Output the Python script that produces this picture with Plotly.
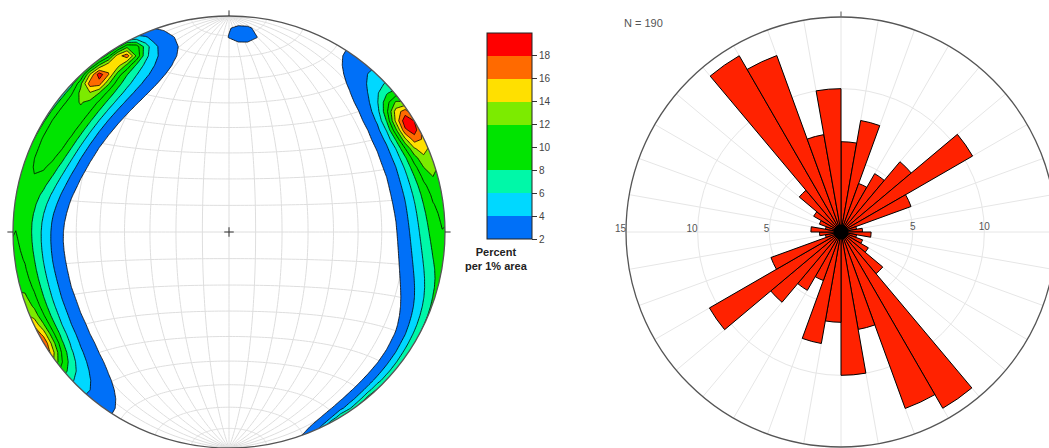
import numpy as np
import plotly.graph_objects as go

FIG_W, FIG_H = 1060, 448   # page shows 1049 px; the rose runs off the right edge as in the original

# ---------------- Rose diagram: strike directions, 10 degree bins, percent of N ----------------
rose_bin_start = [0, 10, 20, 30, 40, 50, 60, 70, 80, 90, 100, 110, 120, 130, 140, 150, 160, 170,
                  180, 190, 200, 210, 220, 230, 240, 250, 260, 270, 280, 290, 300, 310, 320, 330, 340, 350]
rose_percent = [6.3, 7.9, 3.6, 4.7, 6.4, 10.6, 5.2, 1.1, 1.5, 2.1, 1.1, 1.6, 2.2, 3.8, 14.2, 13.1, 6.9, 10.0,
                6.3, 7.9, 3.6, 4.7, 6.4, 10.6, 5.2, 1.1, 1.5, 2.1, 1.1, 1.6, 2.2, 3.8, 14.2, 13.1, 6.9, 10.0]
rose_left_ticks = [5, 10, 15]
rose_right_ticks = [5, 10]
rose_label = "N = 190"

# ---------------- Stereonet: pole concentrations (trend deg, plunge deg, weight %, spread deg) ----
pole_trend = [40, 50, 60, 70, 80, 90, 100,
              290, 300, 310, 320, 330, 340,
              58, 68, 238, 320, 330, 4]
pole_plunge = [0, 0, 0, 0, 0, 0, 0,
               10, 10, 10, 10, 10, 10,
               4.5, 3, 2, 6.5, 5.5, 9]
pole_weight = [0.8, 2.3, 3.1, 3.4, 3.4, 3.4, 3.3,
               4.0, 4.6, 5.0, 4.6, 3.2, 0.7,
               9.5, 3.0, 2.5, 9.5, 10.5, 2.8]
pole_spread = [13, 13, 13, 13, 13, 13, 13,
               10, 10, 10, 10, 10, 10,
               5, 6, 5, 3.6, 3.4, 5.0]

contour_levels = [2, 4, 6, 8, 10, 12, 14, 16, 18]
band_colors = ["#0070F8", "#00D8FF", "#00F8A8", "#00E400", "#00E400",
               "#7CEB00", "#FFE000", "#FF6A00", "#FF0000"]
colorbar_title = "<b>Percent<br>per 1% area</b>"

FONT = "Liberation Sans, Arial, sans-serif"


def project(vx, vy, vz):
    """Lambert equal-area (Schmidt) projection of lower-hemisphere unit vectors."""
    vz = np.clip(vz, -1, 1)
    th = np.arccos(vz)
    r = np.sqrt(2.0) * np.sin(th / 2.0)
    h = np.hypot(vx, vy)
    h = np.where(h < 1e-12, 1.0, h)
    return r * vx / h, r * vy / h


# ---- density grid (coarse counting grid, like the original) ----
n = 49
g = np.linspace(-1.03, 1.03, n)
X, Y = np.meshgrid(g, g)
R = np.hypot(X, Y)
th = 2 * np.arcsin(np.clip(R * np.sqrt(0.5), 0, 1))
az = np.arctan2(X, Y)
V = np.stack([np.sin(th) * np.sin(az), np.sin(th) * np.cos(az), np.cos(th)], axis=-1)
dens = np.zeros_like(X)
for t, p, w, s in zip(pole_trend, pole_plunge, pole_weight, pole_spread):
    t, p = np.radians(t), np.radians(p)
    c = np.array([np.cos(p) * np.sin(t), np.cos(p) * np.cos(t), np.sin(p)])
    ang = np.degrees(np.arccos(np.clip(np.abs(V @ c), 0, 1)))
    dens += w * np.exp(-0.5 * (ang / s) ** 2)

# step colorscale for the filled contour (band below 2 is transparent)
fill_colors = ["rgba(255,255,255,0)"] + band_colors
fill_scale = []
for k, col in enumerate(fill_colors):
    fill_scale.append([k / len(fill_colors), col])
    fill_scale.append([(k + 1) / len(fill_colors), col])

cb_scale = []
for k, col in enumerate(band_colors):
    cb_scale.append([k / len(band_colors), col])
    cb_scale.append([(k + 1) / len(band_colors), col])

fig = go.Figure()

fig.add_trace(go.Contour(
    x=g, y=g, z=dens, autocontour=False,
    contours=dict(start=contour_levels[0], end=contour_levels[-1] + 2, size=2,
                  coloring="fill", showlines=False),
    colorscale=fill_scale, showscale=False, line=dict(width=0, smoothing=0),
    hoverinfo="skip", xaxis="x", yaxis="y"))
fig.add_trace(go.Contour(
    x=g, y=g, z=dens, autocontour=False,
    contours=dict(start=contour_levels[0], end=contour_levels[-1] + 2, size=2,
                  coloring="none", showlines=True),
    line=dict(color="black", width=0.8, smoothing=0), showscale=False,
    hoverinfo="skip", xaxis="x", yaxis="y"))

# colour bar (legend of contour bands)
fig.add_trace(go.Scatter(
    x=[None], y=[None], mode="markers", showlegend=False, hoverinfo="skip",
    marker=dict(color=[contour_levels[0]], cmin=contour_levels[0], cmax=contour_levels[-1] + 2,
                colorscale=cb_scale, showscale=True,
                colorbar=dict(x=487 / FIG_W, xanchor="left", y=(FIG_H - 33) / FIG_H, yanchor="top",
                              len=206 / FIG_H, lenmode="fraction", thickness=45, thicknessmode="pixels",
                              outlinewidth=1, outlinecolor="#222", xpad=0, ypad=0,
                              tickvals=contour_levels, ticks="outside", ticklen=5, tickcolor="#333",
                              tickfont=dict(size=10, color="#444", family=FONT))),
    xaxis="x", yaxis="y"))

# rose diagram
fig.add_trace(go.Barpolar(
    r=rose_percent, theta=[b + 5 for b in rose_bin_start], width=[10] * len(rose_bin_start),
    marker=dict(color="#FF2200", line=dict(color="black", width=1)),
    subplot="polar", hoverinfo="skip", showlegend=False))
fig.add_trace(go.Scatterpolar(r=[0], theta=[0], mode="markers",
                              marker=dict(size=15, color="black"),
                              subplot="polar", hoverinfo="skip", showlegend=False))
fig.add_trace(go.Scatterpolar(r=[0], theta=[0], mode="markers",
                              marker=dict(size=1, opacity=0),
                              subplot="polar2", hoverinfo="skip", showlegend=False))

# ---- Schmidt net grid as a single path below the traces ----
segs = []
a = np.linspace(0, np.pi, 121)
for k in range(10, 180, 10):          # great circles striking N-S
    kr = np.radians(k)
    vx = np.sin(a) * np.cos(kr)
    vy = np.cos(a)
    vz = np.sin(a) * np.sin(kr)
    px, py = project(vx, vy, vz)
    segs.append("M" + "L".join(f"{x:.4f},{y:.4f}" for x, y in zip(px, py)))
for b in range(10, 180, 10):          # small circles about the N-S axis
    br = np.radians(b)
    vx = np.sin(br) * np.cos(a)
    vy = np.full_like(a, np.cos(br))
    vz = np.sin(br) * np.sin(a)
    px, py = project(vx, vy, vz)
    segs.append("M" + "L".join(f"{x:.4f},{y:.4f}" for x, y in zip(px, py)))
net_path = " ".join(segs)

ca = np.linspace(2 * np.pi, 0, 241)
hole = "M" + "L".join(f"{np.cos(t):.4f},{np.sin(t):.4f}" for t in ca) + "Z"
mask_path = "M-1.4,-1.4L1.4,-1.4L1.4,1.4L-1.4,1.4Z " + hole

tl = 0.026
shapes = [
    dict(type="path", path=net_path, xref="x", yref="y", layer="below",
         line=dict(color="#dedede", width=1)),
    dict(type="path", path=mask_path, xref="x", yref="y", layer="above",
         fillcolor="white", line=dict(width=0)),
    dict(type="circle", x0=-1, x1=1, y0=-1, y1=1, xref="x", yref="y", layer="above",
         line=dict(color="#555", width=1.3)),
    dict(type="line", x0=-0.022, x1=0.022, y0=0, y1=0, xref="x", yref="y", layer="above",
         line=dict(color="#333", width=1)),
    dict(type="line", x0=0, x1=0, y0=-0.022, y1=0.022, xref="x", yref="y", layer="above",
         line=dict(color="#333", width=1)),
    dict(type="line", x0=0, x1=0, y0=1, y1=1 + tl, xref="x", yref="y", layer="above",
         line=dict(color="#333", width=1)),
    dict(type="line", x0=1, x1=1 + tl, y0=0, y1=0, xref="x", yref="y", layer="above",
         line=dict(color="#333", width=1)),
    dict(type="line", x0=-1, x1=-1 - tl, y0=0, y1=0, xref="x", yref="y", layer="above",
         line=dict(color="#333", width=1)),
]

S = 216.0  # px per unit on the stereonet
cx_px, cy_px = 229.0, 232.0
xr = [-1.05, 1.05]
yr = [-1.0, 1.05]
xdom = [(cx_px + xr[0] * S) / FIG_W, (cx_px + xr[1] * S) / FIG_W]
ydom = [(FIG_H - cy_px + yr[0] * S) / FIG_H, (FIG_H - cy_px + yr[1] * S) / FIG_H]

rose_cx, rose_cy, rose_r = 841.0, 232.0, 215.0
pdom_x = [(rose_cx - rose_r) / FIG_W, (rose_cx + rose_r) / FIG_W]
pdom_y = [(FIG_H - rose_cy - rose_r) / FIG_H, (FIG_H - rose_cy + rose_r) / FIG_H]

fig.update_layout(
    width=FIG_W, height=FIG_H, autosize=False,
    margin=dict(l=0, r=0, t=0, b=0),
    paper_bgcolor="white", plot_bgcolor="white",
    font=dict(family=FONT, color="#444"),
    showlegend=False,
    xaxis=dict(domain=xdom, range=xr, visible=False, fixedrange=True),
    yaxis=dict(domain=ydom, range=yr, visible=False, fixedrange=True),
    polar=dict(
        domain=dict(x=pdom_x, y=pdom_y), bgcolor="white",
        angularaxis=dict(direction="clockwise", rotation=90, tickmode="linear", tick0=0, dtick=10,
                         showticklabels=False, ticks="", showgrid=True, gridcolor="#e6e6e6",
                         gridwidth=1.2, showline=True, linecolor="#555", linewidth=1.3),
        radialaxis=dict(range=[0, 15], tickvals=rose_left_ticks, angle=180, side="clockwise",
                        tickangle=180,
                        showline=False, ticks="", showgrid=True, gridcolor="#e6e6e6", gridwidth=1.2,
                        tickfont=dict(size=10, color="#555", family=FONT)),
    ),
    polar2=dict(
        domain=dict(x=pdom_x, y=pdom_y), bgcolor="rgba(0,0,0,0)",
        angularaxis=dict(direction="clockwise", rotation=90, tickmode="array", tickvals=[0],
                         showticklabels=False, ticks="outside", ticklen=5, tickcolor="#555",
                         showgrid=False, showline=False),
        radialaxis=dict(range=[0, 15], tickvals=rose_right_ticks, angle=0, side="counterclockwise",
                        showline=False, ticks="", showgrid=False,
                        tickfont=dict(size=10, color="#555", family=FONT)),
    ),
    shapes=shapes,
    annotations=[
        dict(text=colorbar_title, x=496 / FIG_W, y=(FIG_H - 244) / FIG_H, xref="paper", yref="paper",
             xanchor="center", yanchor="top", showarrow=False, align="center",
             font=dict(size=11, color="#222", family=FONT)),
        dict(text=rose_label, x=622 / FIG_W, y=(FIG_H - 23) / FIG_H, xref="paper", yref="paper",
             xanchor="left", yanchor="middle", showarrow=False,
             font=dict(size=11, color="#555", family=FONT)),
    ],
)

post = ("document.documentElement.style.overflow='hidden';"
        "document.body.style.margin='0';document.body.style.overflow='hidden';"
        "var gd=document.getElementById('{plot_id}');"
        "gd.parentElement.style.width='1049px';gd.parentElement.style.height='448px';"
        "gd.parentElement.style.overflow='hidden';")
fig.write_html("out.html", post_script=post, config={"displayModeBar": False})
